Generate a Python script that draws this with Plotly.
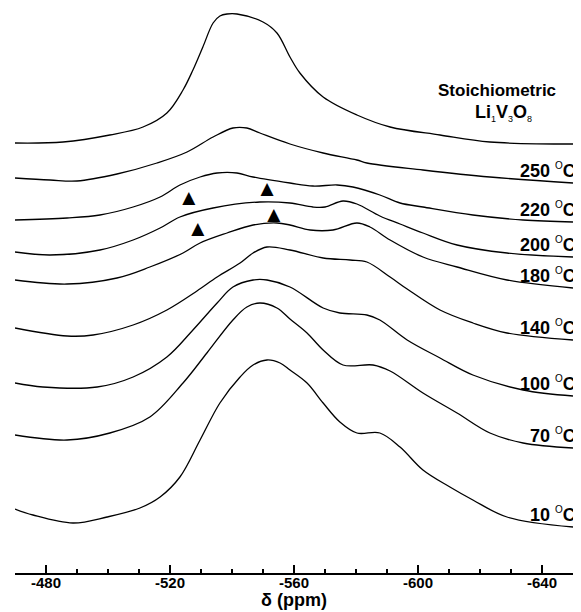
import plotly.graph_objects as go

# ---- data ----
ppm_stoich = [-470, -485.5, -500.6, -511.3, -519, -524.2, -527.4, -530.6, -533.9, -536.1, -538.4, -541.6,
              -550, -554.5, -558.7, -561.9, -569.4, -580.3, -591, -607.1, -623.2, -650]
int_stoich = [430, 431, 438, 446, 460, 483, 503, 526, 550, 557, 559, 559,
              551, 540, 516, 500, 476, 458, 446, 438, 431, 429]

ppm_250 = [-470, -481.3, -490, -502.9, -515.8, -525.5, -533.9, -540.3, -544.8, -549, -558.7, -569.4,
           -580.3, -583.5, -601.6, -623.2, -650]
int_250 = [395, 393, 392, 399, 410, 421, 436, 445, 445, 440, 429, 420, 413, 410, 403, 396, 390]

ppm_220 = [-470, -486.8, -497.4, -508.1, -516.8, -523.2, -529.7, -535.2, -541.6, -546.8, -558.7, -566.1,
           -573.9, -579, -587.7, -594.2, -601.6, -617.7, -633.9, -650]
int_220 = [353, 355, 358, 366, 376, 388, 396, 400, 400, 396, 390, 387, 388, 386, 378, 370, 366, 358, 353, 351]

ppm_200 = [-470, -481.3, -497.4, -508.1, -516.8, -523.2, -533.9, -549, -558.7, -566.1, -570, -575.8,
           -580.3, -587.7, -594.2, -601.6, -612.6, -628.7, -650]
int_200 = [321, 318, 323, 333, 345, 356, 365, 371, 370, 366, 366, 372, 369, 357, 349, 340, 328, 320, 316]

ppm_180 = [-470, -486.8, -502.9, -513.5, -524.2, -529.7, -538.4, -546.8, -554.5, -558.7, -565.2, -572.6,
           -580.3, -584.5, -591, -601.6, -612.6, -628.7, -650]
int_180 = [293, 289, 295, 306, 320, 330, 340, 348, 350, 348, 343, 343, 350, 346, 333, 316, 306, 293, 285]

ppm_140 = [-470, -486.8, -495.2, -508.1, -519, -528.7, -535.2, -542.6, -546.8, -551.3, -558.7, -569.4,
           -578.1, -583.5, -591, -596.5, -607.1, -617.7, -628.7, -650]
int_140 = [245, 237, 238, 248, 263, 282, 296, 310, 320, 326, 323, 315, 313, 311, 296, 284, 263, 250, 240, 233]

ppm_100 = [-470, -479, -496.5, -508.1, -519, -527.4, -535.2, -540.3, -546.8, -551.3, -558.7, -569.4,
           -574.8, -583.5, -587.7, -596.5, -607.1, -617.7, -633.9, -650]
int_100 = [190, 186, 186, 196, 216, 243, 270, 286, 293, 293, 286, 265, 260, 258, 253, 233, 215, 198, 183, 177]

ppm_70 = [-470, -486.8, -500.6, -513.5, -524.2, -531.9, -540.3, -544.8, -549, -554.5, -558.7, -564.2,
          -569.4, -575.8, -585.5, -591, -601.6, -612.6, -623.2, -633.9, -650]
int_70 = [138, 133, 140, 156, 190, 220, 253, 266, 270, 265, 254, 240, 223, 208, 208, 202, 180, 160, 140, 130, 125]

ppm_10 = [-470, -475.8, -488.7, -499.7, -510.3, -516.8, -523.2, -529.7, -536.1, -542.6, -546.8, -551.3,
          -555.5, -558.7, -564.2, -569.4, -574.8, -580.3, -587.7, -594.2, -601.6, -610.3, -617.7, -628.7, -650]
int_10 = [64, 58, 50, 56, 65, 76, 96, 133, 170, 196, 208, 213, 210, 203, 190, 170, 151, 140, 140, 126,
          103, 86, 73, 56, 46]

temp_labels = ["250", "220", "200", "180", "140", "100", "70", "10"]

tri_ppm = [-526.1, -551.3, -529.0, -553.5]
tri_int = [374, 383, 343, 357]

tick_vals = [-480, -520, -560, -600, -640]
tick_text = ["-480", "-520", "-560", "-600", "-640"]
minor_vals = [-470, -490, -500, -510, -530, -540, -550, -570, -580, -590, -610, -620, -630, -650]

# ---- figure ----
FONT = "Arial, Liberation Sans, sans-serif"
fig = go.Figure()

series = [(ppm_stoich, int_stoich), (ppm_250, int_250), (ppm_220, int_220), (ppm_200, int_200),
          (ppm_180, int_180), (ppm_140, int_140), (ppm_100, int_100), (ppm_70, int_70), (ppm_10, int_10)]
for xs, ys in series:
    fig.add_trace(go.Scatter(x=xs, y=ys, mode="lines",
                             line=dict(color="black", width=1.3, shape="spline", smoothing=1.0),
                             hoverinfo="skip", showlegend=False))

fig.add_trace(go.Scatter(x=tri_ppm, y=tri_int, mode="text", text=["\u25B2"] * len(tri_ppm),
                         textposition="middle center",
                         textfont=dict(family="DejaVu Sans", size=17, color="black"),
                         hoverinfo="skip", showlegend=False))

annotations = []
for (xs, ys), lab in zip(series[1:], temp_labels):
    annotations.append(dict(
        x=1.0072, xref="paper", y=ys[-1] + 1, yref="y", xanchor="right", yanchor="bottom",
        text=lab + " <sup><span style='font-size:10px;font-weight:normal'>O</span></sup>C",
        showarrow=False, borderpad=0,
        font=dict(family=FONT, size=18, color="black", weight="bold")))

annotations.append(dict(x=-625.6, y=483, xref="x", yref="y", text="Stoichiometric",
                        showarrow=False, font=dict(family=FONT, size=17, color="black", weight="bold")))
annotations.append(dict(x=-627.7, y=460, xref="x", yref="y",
                        text="Li<sub><span style='font-size:9px;font-weight:normal'>1</span></sub>"
                             "V<sub><span style='font-size:9px;font-weight:normal'>3</span></sub>"
                             "O<sub><span style='font-size:9px;font-weight:normal'>8</span></sub>",
                        showarrow=False, font=dict(family=FONT, size=18, color="black", weight="bold")))
annotations.append(dict(x=0.5, y=-0.048, xref="paper", yref="paper", text="\u03b4 (ppm)",
                        xanchor="center", yanchor="middle", showarrow=False,
                        font=dict(family=FONT, size=18, color="black", weight="bold")))

# page body has an 8px default margin: figure is sized/placed to compensate
fig.update_layout(
    width=573, height=604,
    margin=dict(l=7, r=8, t=0, b=39),
    paper_bgcolor="white", plot_bgcolor="white",
    showlegend=False,
    annotations=annotations,
    xaxis=dict(range=[-470, -650], showgrid=False, zeroline=False,
               showline=True, linecolor="black", linewidth=1.5,
               ticks="inside", ticklen=8, tickwidth=1.5, tickcolor="black",
               tickvals=tick_vals, ticktext=tick_text, ticklabelstandoff=-5,
               tickfont=dict(family=FONT, size=15, color="black", weight="bold"),
               minor=dict(tickvals=minor_vals, ticks="inside", ticklen=4, tickwidth=1.5, tickcolor="black")),
    yaxis=dict(range=[0, 565], visible=False, showgrid=False, zeroline=False),
)

fig.write_html("out.html")
